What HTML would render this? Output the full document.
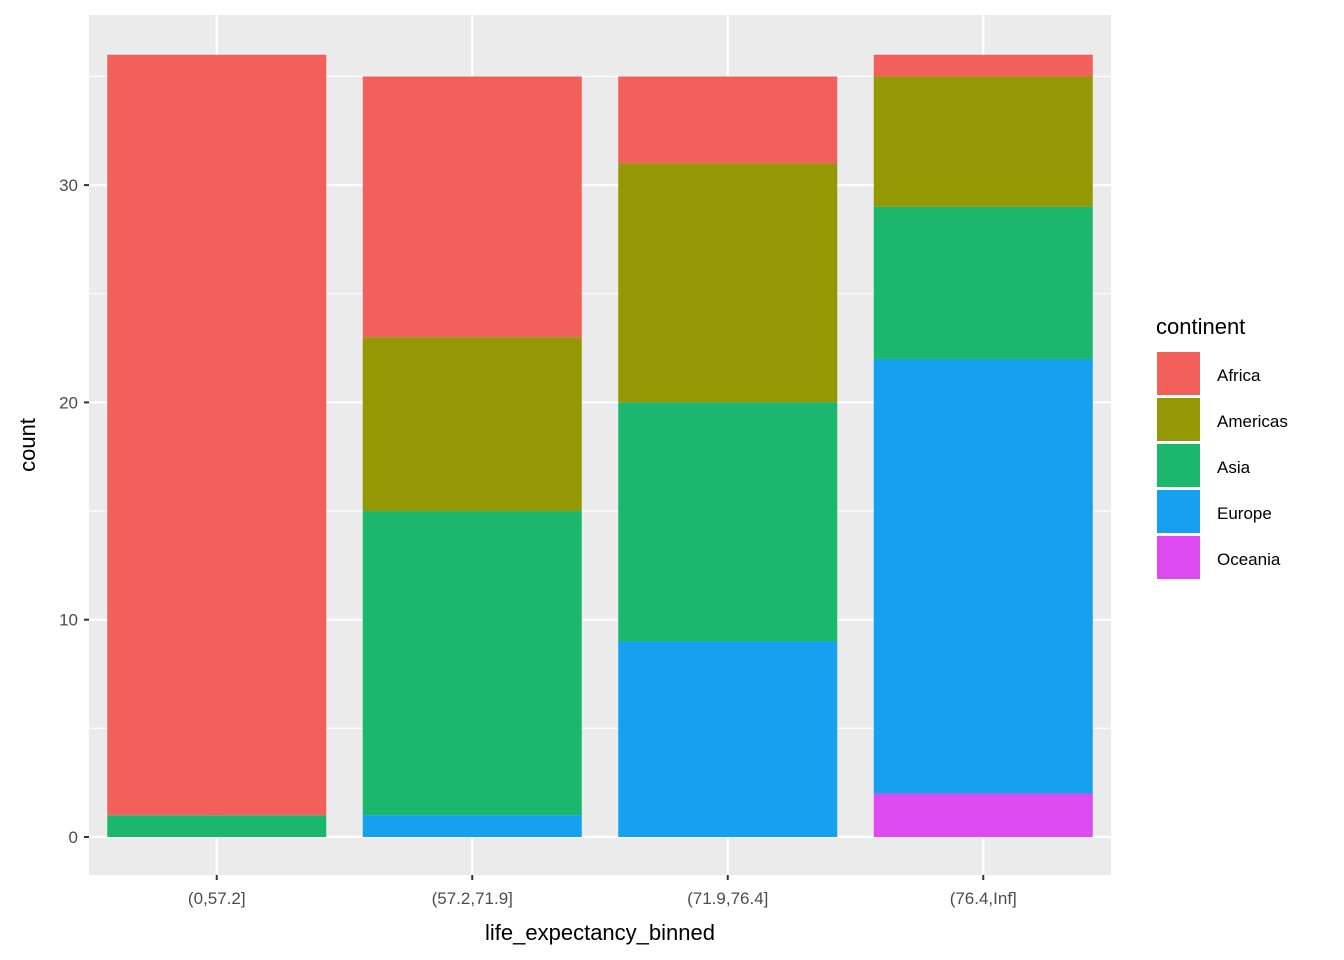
<!DOCTYPE html>
<html><head><meta charset="utf-8"><style>
body{margin:0;background:#fff;}
svg{display:block;font-family:"Liberation Sans",Arial,sans-serif;}
</style></head><body>
<svg id="chart" width="1344" height="960"></svg>
<script>
const categories = ["(0,57.2]","(57.2,71.9]","(71.9,76.4]","(76.4,Inf]"];
const continents = ["Africa","Americas","Asia","Europe","Oceania"];
const colors = ["#F3605B","#939804","#1BB76C","#16A0F0","#DD4BF0"];
const africa   = [35,12,4,1];
const americas = [0,8,11,6];
const asia     = [1,14,11,7];
const europe   = [0,1,9,20];
const oceania  = [0,0,0,2];
const yTicks = [0,10,20,30];
const yMinor = [5,15,25,35];

const NS="http://www.w3.org/2000/svg";
const svg=document.getElementById('chart');
function el(t,a,p){const e=document.createElementNS(NS,t);for(const k in a)e.setAttribute(k,a[k]);(p||svg).appendChild(e);return e;}
const px0=89,px1=1111,py0=15,py1=875;
const y=v=>837-v*21.73;
const step=(px1-px0)/categories.length;
const x=i=>px0+step*(i+0.5);
const bw=219;

const panel=el('rect',{x:px0,y:py0,width:px1-px0,height:py1-py0,fill:'#EBEBEB'});

yMinor.forEach(v=>{const l=el('line',{x1:px0,x2:px1,y1:y(v),y2:y(v),stroke:'#fff','stroke-width':1.1});
});
yTicks.forEach(v=>{const l=el('line',{x1:px0,x2:px1,y1:y(v),y2:y(v),stroke:'#fff','stroke-width':2.2});
});
categories.forEach((c,i)=>{const l=el('line',{x1:x(i),x2:x(i),y1:py0,y2:py1,stroke:'#fff','stroke-width':2.2});
});

const series=[africa,americas,asia,europe,oceania];
categories.forEach((c,i)=>{
  let base=0;
  for(let s=series.length-1;s>=0;s--){
    const v=series[s][i]; if(!v)continue;
    const r=el('rect',{x:x(i)-bw/2,y:y(base+v),width:bw,height:y(base)-y(base+v),fill:colors[s]});
    
    
    base+=v;
  }
});

yTicks.forEach(v=>{
  const t=el('line',{x1:84,x2:89,y1:y(v),y2:y(v),stroke:'#333','stroke-width':2});
  
  const tx=el('text',{x:78,y:y(v)+6,'text-anchor':'end','font-size':17,fill:'#4D4D4D'});tx.textContent=v;
  
});
categories.forEach((c,i)=>{
  const t=el('line',{x1:x(i),x2:x(i),y1:875,y2:880,stroke:'#333','stroke-width':2});
  
  const tx=el('text',{x:x(i),y:904,'text-anchor':'middle','font-size':17,fill:'#4D4D4D'});tx.textContent=c;
  
});
const xt=el('text',{x:600,y:940,'text-anchor':'middle','font-size':22,fill:'#000'});xt.textContent='life_expectancy_binned';

const yt=el('text',{x:0,y:0,'text-anchor':'middle','font-size':22,fill:'#000',transform:'translate(35,445) rotate(-90)'});yt.textContent='count';


const lt=el('text',{x:1156,y:334,'font-size':22,fill:'#000'});lt.textContent='continent';

continents.forEach((c,k)=>{
  const ky=352+k*46;
  const r=el('rect',{x:1157,y:ky,width:43,height:43,fill:colors[k]});
  
  const t=el('text',{x:1217,y:ky+29,'font-size':17,fill:'#000'});t.textContent=c;
  
});
</script>
</body></html>
